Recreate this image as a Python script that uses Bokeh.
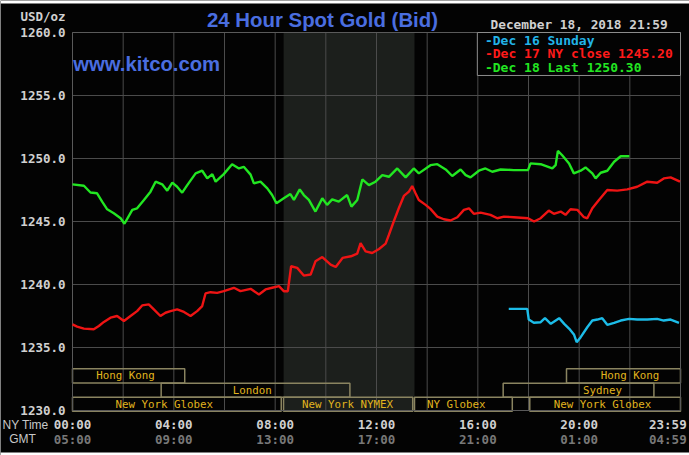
from bokeh.plotting import figure
from bokeh.models import Range1d, ColumnDataSource
from bokeh.core.properties import value
from bokeh.embed import file_html
from bokeh.resources import INLINE

# ---------------- data ----------------
green_t = [0.0, 0.45, 0.71, 0.97, 1.17, 1.37, 1.63, 1.9, 2.05, 2.36, 2.55, 2.82, 3.08, 3.28, 3.54,
           3.74, 3.94, 4.13, 4.33, 4.53, 4.86, 5.12, 5.32, 5.52, 5.65, 5.97, 6.3, 6.57, 6.76, 7.03,
           7.16, 7.42, 7.69, 7.88, 8.05, 8.34, 8.6, 8.74, 8.97, 9.13, 9.33, 9.59, 9.86, 10.05, 10.25,
           10.51, 10.84, 11.01, 11.24, 11.44, 11.7, 11.96, 12.23, 12.49, 12.82, 13.15, 13.47, 13.67,
           14.13, 14.4, 14.73, 14.99, 15.32, 15.52, 15.71, 16.04, 16.3, 16.57, 16.9, 17.42, 17.98,
           18.08, 18.48, 18.94, 19.07, 19.16, 19.33, 19.6, 19.79, 20.06, 20.25, 20.52, 20.65, 20.85,
           21.11, 21.38, 21.64, 21.98]
green_v = [1247.95, 1247.84, 1247.3, 1247.24, 1246.58, 1245.97, 1245.66, 1245.26, 1244.82, 1245.92,
           1246.05, 1246.71, 1247.37, 1248.16, 1247.95, 1247.45, 1248.08, 1247.76, 1247.29, 1247.89,
           1248.82, 1249.03, 1248.42, 1248.76, 1248.16, 1248.76, 1249.55, 1249.21, 1249.34, 1248.72,
           1248.03, 1248.16, 1247.63, 1247.1, 1246.45, 1246.84, 1247.18, 1246.71, 1247.55, 1247.1,
           1246.71, 1245.79, 1246.84, 1246.32, 1246.76, 1246.58, 1247.1, 1246.18, 1246.71, 1248.34,
           1247.89, 1248.16, 1248.68, 1248.55, 1249.21, 1248.5, 1249.21, 1248.82, 1249.47, 1249.55,
           1249.13, 1248.61, 1249.13, 1248.68, 1248.5, 1249.03, 1249.21, 1248.95, 1249.13, 1249.08,
           1249.08, 1249.61, 1249.55, 1249.21, 1249.47, 1250.61, 1250.26, 1249.61, 1248.82, 1249.03,
           1249.29, 1248.82, 1248.42, 1248.87, 1249.03, 1249.74, 1250.18, 1250.18]

red_t = [0.0, 0.18, 0.45, 0.84, 1.04, 1.24, 1.5, 1.76, 2.03, 2.29, 2.55, 2.75, 3.01, 3.21, 3.47,
         3.67, 3.87, 4.13, 4.4, 4.66, 4.92, 5.12, 5.25, 5.45, 5.71, 5.97, 6.37, 6.63, 7.03, 7.36,
         7.62, 7.88, 8.15, 8.34, 8.5, 8.63, 8.87, 9.13, 9.4, 9.59, 9.86, 10.19, 10.39, 10.66, 10.99,
         11.24, 11.37, 11.57, 11.83, 12.1, 12.36, 12.49, 12.68, 12.88, 13.08, 13.28, 13.41, 13.54,
         13.67, 13.94, 14.13, 14.4, 14.66, 14.92, 15.19, 15.45, 15.65, 15.84, 16.11, 16.5, 16.77,
         17.03, 17.42, 17.98, 18.22, 18.48, 18.8, 19.0, 19.27, 19.46, 19.66, 19.93, 20.19, 20.32,
         20.52, 20.78, 21.11, 21.5, 21.9, 22.29, 22.69, 23.08, 23.34, 23.61, 23.98]
red_v = [1236.84, 1236.66, 1236.5, 1236.45, 1236.71, 1237.03, 1237.37, 1237.5, 1237.1, 1237.5,
         1237.89, 1238.34, 1238.42, 1238.03, 1237.5, 1237.76, 1237.89, 1238.03, 1237.82, 1237.5,
         1237.89, 1238.29, 1239.29, 1239.39, 1239.34, 1239.47, 1239.74, 1239.47, 1239.66, 1239.21,
         1239.61, 1239.74, 1239.87, 1239.47, 1239.47, 1241.45, 1241.32, 1240.71, 1240.79, 1241.84,
         1242.18, 1241.58, 1241.39, 1242.11, 1242.24, 1242.45, 1243.29, 1242.63, 1242.5, 1242.82,
         1243.24, 1243.95, 1245.0, 1246.05, 1247.03, 1247.37, 1247.82, 1247.24, 1246.71, 1246.32,
         1246.0, 1245.39, 1245.18, 1245.08, 1245.34, 1245.92, 1246.05, 1245.61, 1245.71, 1245.53,
         1245.26, 1245.39, 1245.34, 1245.26, 1245.0, 1245.26, 1245.87, 1245.61, 1245.79, 1245.53,
         1245.97, 1245.92, 1245.34, 1245.26, 1246.05, 1246.71, 1247.5, 1247.45, 1247.55, 1247.76,
         1248.16, 1248.08, 1248.42, 1248.5, 1248.16]

cyan_t = [17.22, 17.95, 18.01, 18.21, 18.48, 18.65, 18.88, 19.21, 19.41, 19.61, 19.8, 19.9, 20.06,
          20.32, 20.52, 20.72, 20.91, 21.11, 21.38, 21.64, 21.97, 22.29, 22.69, 23.08, 23.34, 23.61,
          23.94]
cyan_v = [1238.07, 1238.07, 1237.22, 1236.96, 1237.01, 1237.33, 1236.88, 1237.33, 1236.88, 1236.48,
          1236.01, 1235.42, 1235.82, 1236.61, 1237.14, 1237.22, 1237.33, 1236.8, 1236.96, 1237.14,
          1237.27, 1237.22, 1237.22, 1237.27, 1237.14, 1237.22, 1236.96]

legend_names = ["Dec 16 Sunday", "Dec 17 NY close 1245.20", "Dec 18 Last 1250.30"]

y_ticks = [1230, 1235, 1240, 1245, 1250, 1255, 1260]
x_ticks = [0, 4, 8, 12, 16, 20, 23.5]
ny_labels = ["00:00", "04:00", "08:00", "12:00", "16:00", "20:00", "23:59"]
gmt_labels = ["05:00", "09:00", "13:00", "17:00", "21:00", "01:00", "04:59"]
grid_hours = [0, 2, 4, 6, 8, 10, 12, 14, 16, 18, 20, 22, 24]

# market sessions (NY time, hours) and the row they sit in
sess_names = ["Hong Kong", "Hong Kong", "London", "Sydney",
              "New York Globex", "New York NYMEX", "NY Globex", "New York Globex"]
sess_start = [0.0, 19.5, 3.5, 17.0, 0.0, 8.33, 13.5, 18.05]
sess_end = [4.43, 24.0, 10.95, 22.95, 8.24, 13.43, 17.36, 24.0]
sess_row = [0, 0, 1, 1, 2, 2, 2, 2]
sess_label_x = [2.09, 22.01, 7.1, 20.92, 3.62, 10.86, 15.15, 20.92]

comex_open, comex_close = 8.333, 13.5

# ---------------- styling ----------------
MONO = "DejaVu Sans Mono"
SANS = "Liberation Sans"
BG = "#030303"
GRID = "#4b4b4b"
GREEN = "#22e622"
RED = "#ee1414"
CYAN = "#1cbce8"
BLUE = "#4a6ee0"
GOLD = "#e0b41e"
OLIVE = "#8a8460"
LIGHT = "#d0d0d0"

X0, X1 = 0, 24
Y0, Y1 = 1230, 1260
XMIN, XMAX = -2.842, 24.355
YMIN, YMAX = 1226.43, 1262.54
# canvas spans a little beyond the plotting area on every side
p = figure(width=689, height=455, x_range=Range1d(XMIN, XMAX), y_range=Range1d(YMIN, YMAX),
           x_axis_type=None, y_axis_type=None, output_backend="svg", toolbar_location=None,
           min_border=0, background_fill_color=BG, border_fill_color=BG, outline_line_color=None)
p.grid.visible = False

# thin white strips at top and bottom of the picture
p.quad(left=[XMIN, XMIN], right=[XMAX, XMAX], bottom=[1262.30, YMIN], top=[YMAX, 1226.67],
       fill_color="white", line_color=None)

# COMEX trading shade
p.quad(left=[comex_open], right=[comex_close], bottom=[Y0], top=[Y1],
       fill_color="#1c1f1c", line_color=None)

# grid
p.segment(x0=grid_hours, x1=grid_hours, y0=[Y0] * len(grid_hours), y1=[Y1] * len(grid_hours),
          line_color=GRID, line_width=1)
p.segment(x0=[X0] * len(y_ticks), x1=[X1] * len(y_ticks), y0=y_ticks, y1=y_ticks,
          line_color=GRID, line_width=1)

# tick labels
p.text(x=[-0.276] * len(y_ticks), y=y_ticks, text=["%.1f" % v for v in y_ticks],
       text_align="right", text_baseline="middle", text_color=LIGHT,
       text_font=value(MONO), text_font_style="bold", text_font_size=value("12.5px"))
p.text(x=x_ticks, y=[1228.89] * len(x_ticks), text=ny_labels, text_align="center",
       text_baseline="middle", text_color=LIGHT, text_font=value(MONO),
       text_font_style="bold", text_font_size=value("12.5px"))
p.text(x=x_ticks, y=[1227.70] * len(x_ticks), text=gmt_labels, text_align="center",
       text_baseline="middle", text_color="#787878", text_font=value(MONO),
       text_font_style="bold", text_font_size=value("12.5px"))
p.text(x=[-2.763], y=[1228.89], text=["NY Time"], text_align="left", text_baseline="middle",
       text_color="#c8c8c8", text_font=value(SANS), text_font_size=value("12px"))
p.text(x=[-1.974], y=[1227.70], text=["GMT"], text_align="center", text_baseline="middle",
       text_color="#c8c8c8", text_font=value(SANS), text_font_size=value("12px"))

# market session boxes
row_tops = [1233.31, 1232.17, 1231.06]
row_h = 1.12
src = ColumnDataSource(dict(
    left=sess_start, right=sess_end,
    top=[row_tops[r] for r in sess_row],
    bottom=[row_tops[r] - row_h for r in sess_row],
    mid=[row_tops[r] - row_h / 2 for r in sess_row],
    lx=sess_label_x, name=sess_names))
p.quad(left="left", right="right", top="top", bottom="bottom", source=src,
       fill_color=None, line_color=OLIVE, line_width=1.5)
p.text(x="lx", y="mid", text="name", source=src, text_align="center", text_baseline="middle",
       text_color=GOLD, text_font=value(MONO), text_font_size=value("10.8px"))

# plot frame
p.quad(left=[X0], right=[X1], bottom=[Y0], top=[Y1], fill_color=None, line_color="#5a5a5a",
       line_width=1)

# series
p.line(cyan_t, cyan_v, line_color=CYAN, line_width=2.4)
p.line(red_t, red_v, line_color=RED, line_width=2.4)
p.line(green_t, green_v, line_color=GREEN, line_width=2.4)

# legend box
p.quad(left=[15.98], right=[24], top=[1260], bottom=[1256.59], fill_color=BG,
       line_color="#8c8c8c", line_width=1)
leg_colors = ["#22b4e8", "#ff1a1a", "#22e622"]
p.text(x=[16.28] * 3, y=[1259.37, 1258.36, 1257.25], text=["-" + n for n in legend_names],
       text_color=leg_colors, text_align="left", text_baseline="middle",
       text_font=value(MONO), text_font_style="bold", text_font_size=value("13px"))

# header texts
p.text(x=[9.868], y=[1261.03], text=["24 Hour Spot Gold (Bid)"], text_color=BLUE,
       text_font=value(SANS), text_font_size=value("20.4px"), text_font_style="bold",
       text_align="center", text_baseline="middle")
p.text(x=[0.03], y=[1257.54], text=["www.kitco.com"], text_color=BLUE, text_font=value(SANS),
       text_font_size=value("20.3px"), text_font_style="bold", text_baseline="alphabetic")
p.text(x=[-2.053], y=[1261.27], text=["USD/oz"], text_color=LIGHT, text_font=value(MONO),
       text_font_size=value("12.5px"), text_font_style="bold", text_baseline="middle")
p.text(x=[16.5], y=[1260.63], text=["December 18, 2018 21:59"], text_color=LIGHT,
       text_font=value(MONO), text_font_size=value("12.8px"), text_font_style="bold",
       text_baseline="middle")

open("out.html", "w").write(file_html(p, INLINE))
